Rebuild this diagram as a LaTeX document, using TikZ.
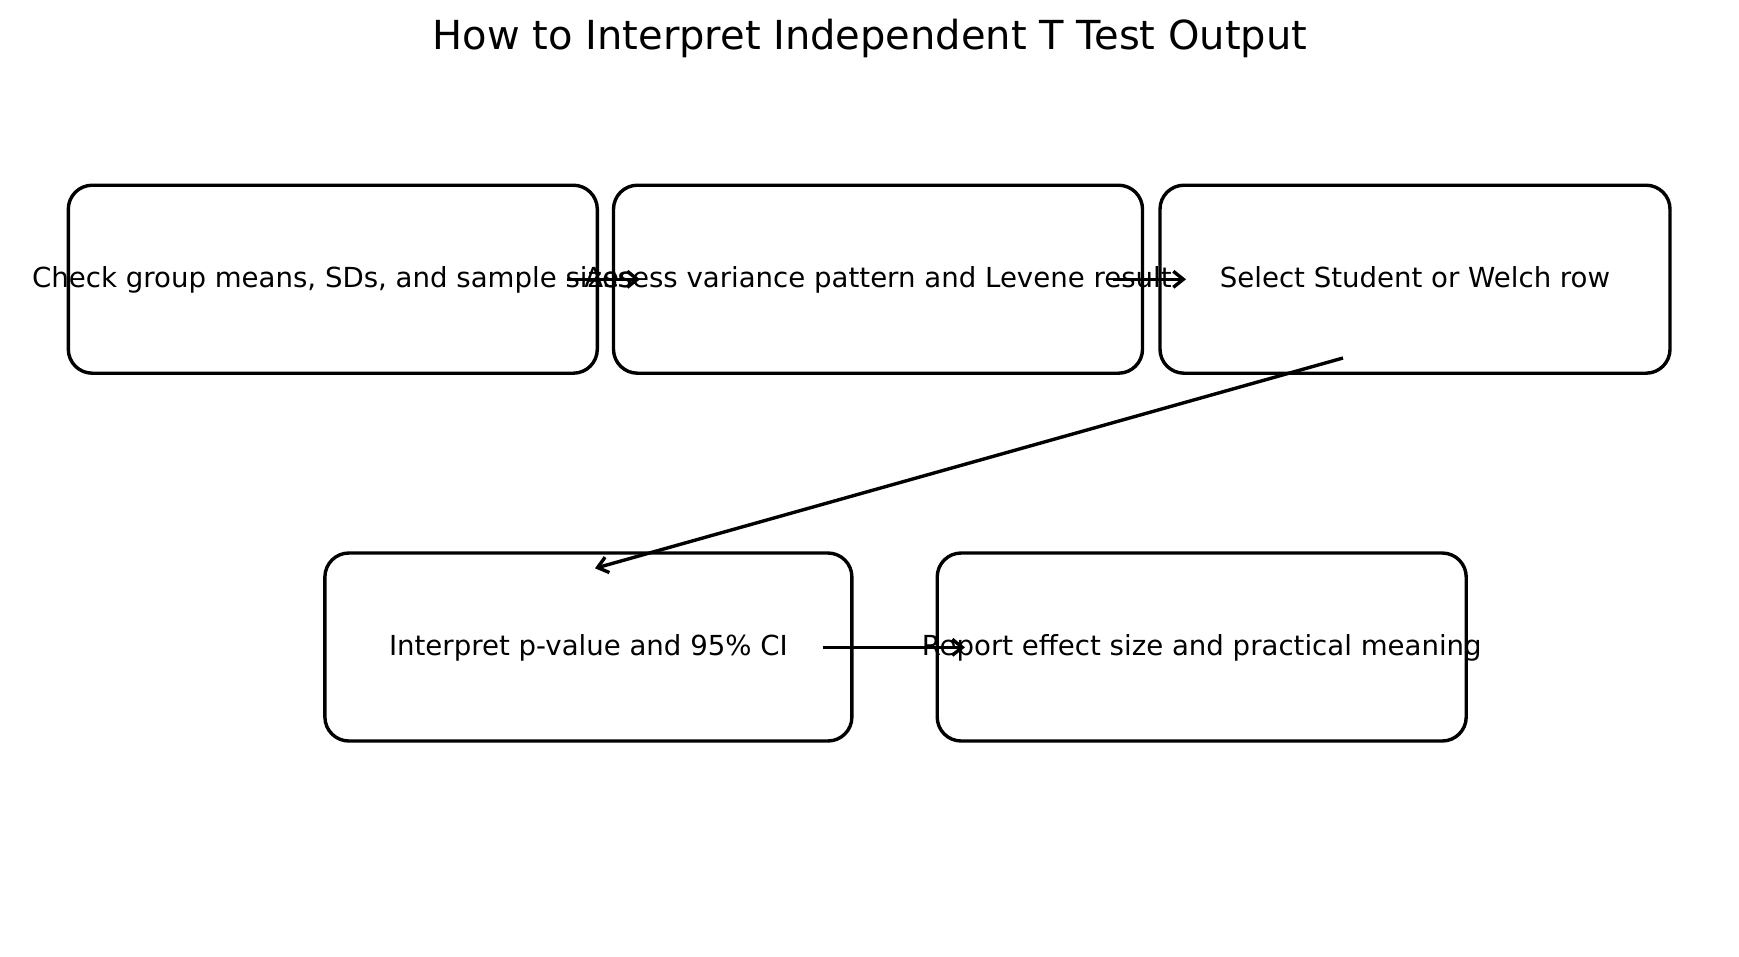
\documentclass[tikz,border=0pt]{standalone}
\usepackage{fontspec}
\setmainfont{DejaVu Sans}
\usetikzlibrary{arrows.meta}
\begin{document}
\begin{tikzpicture}[x=1pt,y=-1pt,
  stepbox/.style={draw=black, line width=3.4pt, rounded corners=24pt,
    minimum width=#1, minimum height=188pt, inner sep=0pt},
  steptext/.style={anchor=base, inner sep=0pt,
    font=\fontsize{27.6}{33}\selectfont},
  titletext/.style={anchor=base, inner sep=0pt,
    font=\fontsize{40}{48}\selectfont},
  flow/.style={line width=3.4pt,
    -{Straight Barb[length=10pt,width=16pt]}}]

% page frame
\path[use as bounding box, fill=white] (0,0) rectangle (1739,956);

% title
\node[titletext] (title) at (870,49) {How to Interpret Independent T Test Output};

% first row
\node[stepbox=529pt] (b1) at (332.8,279.2) {};
\node[stepbox=529pt] (b2) at (878,279.2) {};
\node[stepbox=510pt] (b3) at (1415,279.2) {};

% second row
\node[stepbox=527pt] (b4) at (588.4,647) {};
\node[stepbox=529pt] (b5) at (1201.7,647) {};

% step labels
\node[steptext] (t1) at ([yshift=-8.5pt]b1.center) {Check group means, SDs, and sample sizes};
\node[steptext] (t2) at ([yshift=-8.5pt]b2.center) {Assess variance pattern and Levene result};
\node[steptext] (t3) at ([yshift=-8.5pt]b3.center) {Select Student or Welch row};
\node[steptext] (t4) at ([yshift=-8.5pt]b4.center) {Interpret p-value and 95\% CI};
\node[steptext] (t5) at ([yshift=-8.5pt]b5.center) {Report effect size and practical meaning};

% connector end points
\coordinate (a1s) at (566.7,279.3);
\coordinate (a1e) at (640,279.3);
\coordinate (a2s) at (1113,279.3);
\coordinate (a2e) at (1186,279.3);
\coordinate (a3s) at (1343,358);
\coordinate (a3e) at (595,568.3);
\coordinate (a4s) at (822.7,647.3);
\coordinate (a4e) at (965,647.3);

% connectors
\draw[flow] (a1s) -- (a1e);
\draw[flow] (a2s) -- (a2e);
\draw[flow] (a3s) -- (a3e);
\draw[flow] (a4s) -- (a4e);
\end{tikzpicture}
\end{document}
